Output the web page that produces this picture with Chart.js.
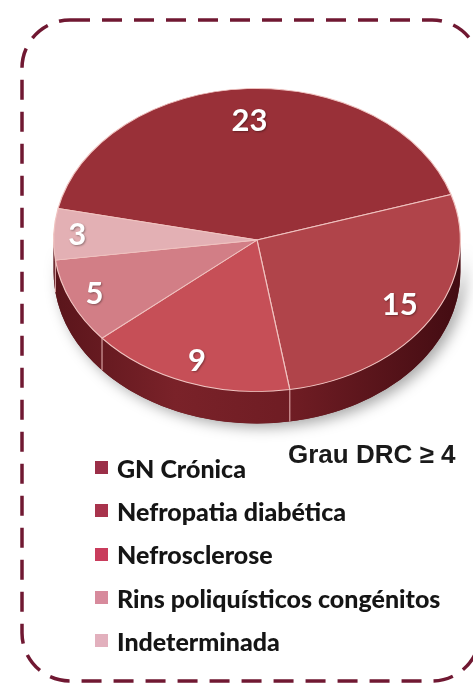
<!DOCTYPE html>
<html>
<head>
<meta charset="utf-8">
<script src="https://cdn.jsdelivr.net/npm/chart.js@4"></script>
<style>
  html, body { margin: 0; padding: 0; background: #fff; }
  #wrap { position: relative; width: 473px; height: 687px; overflow: hidden; }
  #pie { position: absolute; left: 0; top: 0; }
  #title {
    position: absolute; left: 288px; top: 441px;
    font: bold 26px "Liberation Sans", Arial, sans-serif; line-height: 26px;
    color: #1a1a1a; white-space: nowrap;
  }
  #legend { position: absolute; left: 95px; top: 446px; }
  .row { display: flex; align-items: center; height: 43.3px; }
  .sq { width: 13px; height: 13px; margin-right: 9px; }
  .txt { font: 900 25px Lato, "Open Sans", sans-serif; color: #151515; white-space: nowrap; }
</style>
</head>
<body>
<div id="wrap">
  <canvas id="pie" width="473" height="687"></canvas>
  <div id="title"></div>
  <div id="legend"></div>
</div>
<script>
const labels = ["GN Crónica", "Nefropatia diabética", "Nefrosclerose", "Rins poliquísticos congénitos", "Indeterminada"];
const values = [23, 15, 9, 5, 3];
const sliceColors = ["#993038", "#b0444a", "#c64f57", "#d27e86", "#e3b0b4"];
const legendColors = ["#9b2f48", "#a8334c", "#c93c5c", "#d78a9c", "#e2b0bd"];
const chartTitle = "Grau DRC ≥ 4";

const TILT = 0.745;  // vertical squash of the pie
const DEPTH = 32;    // thickness in screen px

document.getElementById("title").textContent = chartTitle;
const legendEl = document.getElementById("legend");
labels.forEach((l, i) => {
  const row = document.createElement("div");
  row.className = "row";
  row.innerHTML = `<div class="sq" style="background:${legendColors[i]}"></div><div class="txt">${l}</div>`;
  legendEl.appendChild(row);
});

// dashed rounded frame
const framePlugin = {
  id: "frame",
  beforeDraw(chart) {
    const ctx = chart.ctx;
    ctx.save();
    ctx.strokeStyle = "#701832";
    ctx.lineWidth = 3.5;
    ctx.setLineDash([20, 12]);
    ctx.beginPath();
    ctx.roundRect(22, 20, 458, 661, 48);
    ctx.stroke();
    ctx.restore();
  },
};

// squash the pie and add the side wall
const pie3d = {
  id: "pie3d",
  beforeDatasetsDraw(chart) {
    const ctx = chart.ctx;
    const meta = chart.getDatasetMeta(0);
    const { x: cx, y: cy, outerRadius: r } = meta.data[0];
    const d = DEPTH / TILT;
    ctx.save();
    ctx.translate(cx, cy);
    ctx.scale(1, TILT);
    ctx.translate(-cx, -cy);

    // whole front wall with shadow
    ctx.save();
    ctx.shadowColor = "rgba(0,0,0,0.35)";
    ctx.shadowBlur = 14;
    ctx.shadowOffsetX = 5;
    ctx.shadowOffsetY = 4;
    ctx.beginPath();
    ctx.arc(cx, cy, r, 0, Math.PI);
    ctx.arc(cx, cy + d, r, Math.PI, 0, true);
    ctx.closePath();
    ctx.fillStyle = "#5e161c";
    ctx.fill();
    ctx.restore();

    const grad = ctx.createLinearGradient(cx - r, 0, cx + r, 0);
    grad.addColorStop(0, "#5a151b");
    grad.addColorStop(0.3, "#7a2229");
    grad.addColorStop(0.6, "#6e1c23");
    grad.addColorStop(1, "#430c12");

    meta.data.forEach((el) => {
      for (let k = -1; k <= 1; k++) {
        const a = Math.max(el.startAngle, k * 2 * Math.PI);
        const b = Math.min(el.endAngle, k * 2 * Math.PI + Math.PI);
        if (b <= a) continue;
        ctx.beginPath();
        ctx.arc(cx, cy, r, a, b);
        ctx.arc(cx, cy + d, r, b, a, true);
        ctx.closePath();
        ctx.fillStyle = grad;
        ctx.fill();
      }
    });

    // seams on the wall
    ctx.strokeStyle = "rgba(240,190,190,0.8)";
    ctx.lineWidth = 1.2;
    meta.data.forEach((el) => {
      const s = Math.sin(el.startAngle);
      if (s > 0.05) {
        const x = cx + Math.cos(el.startAngle) * r;
        const y = cy + s * r;
        ctx.beginPath();
        ctx.moveTo(x, y);
        ctx.lineTo(x, y + d);
        ctx.stroke();
      }
    });
  },
  afterDatasetsDraw(chart) {
    const ctx = chart.ctx;
    ctx.restore();
    const meta = chart.getDatasetMeta(0);
    ctx.save();
    ctx.font = "bold 31px Lato, sans-serif";
    ctx.fillStyle = "#ffffff";
    ctx.textAlign = "center";
    ctx.textBaseline = "middle";
    ctx.shadowColor = "rgba(0,0,0,0.35)";
    ctx.shadowBlur = 2;
    ctx.shadowOffsetX = 1;
    ctx.shadowOffsetY = 1;
    meta.data.forEach((el, i) => {
      const span = el.endAngle - el.startAngle;
      const mid = el.startAngle + span / 2;
      // narrow slices get their label pushed further out
      const f = 0.76 + 0.14 * (1 - span / Math.PI);
      const px = el.x + Math.cos(mid) * el.outerRadius * f;
      const py = el.y + Math.sin(mid) * el.outerRadius * f * TILT;
      ctx.fillText(String(values[i]), px, py);
    });
    ctx.restore();
  },
};

new Chart(document.getElementById("pie"), {
  type: "pie",
  data: {
    labels,
    datasets: [{
      data: values,
      backgroundColor: sliceColors,
      borderColor: "#f0c3c0",
      borderWidth: 1.2,
    }],
  },
  options: {
    responsive: false,
    animation: false,
    rotation: -78,
    layout: { padding: { left: 53, right: 12, top: 36, bottom: 243 } },
    plugins: {
      legend: { display: false },
      tooltip: { enabled: false },
    },
  },
  plugins: [framePlugin, pie3d],
});
</script>
</body>
</html>
